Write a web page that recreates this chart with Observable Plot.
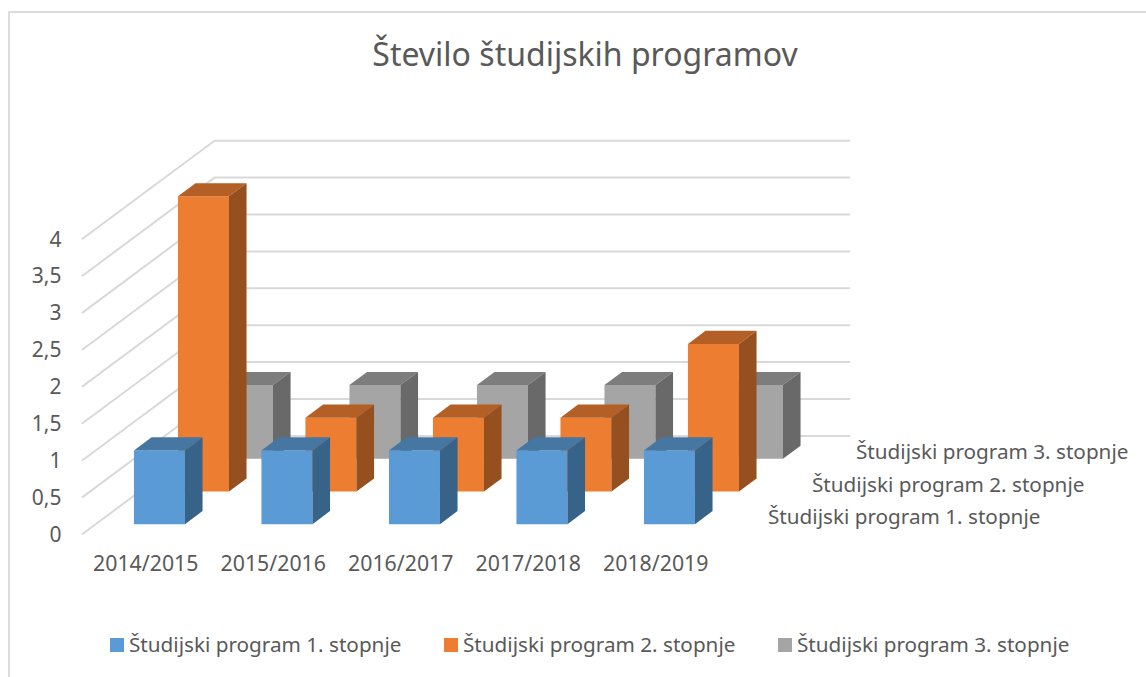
<!DOCTYPE html>
<html><head><meta charset="utf-8">
<script src="https://cdn.jsdelivr.net/npm/d3@7"></script>
<script src="https://cdn.jsdelivr.net/npm/@observablehq/plot@0.6"></script>
<style>
html,body{margin:0;padding:0;background:#fff;overflow:hidden}
#wrap{position:relative;width:1146px;height:677px;font-family:"Noto Sans",sans-serif;color:#595959;box-sizing:border-box}
#frame{position:absolute;left:8px;top:11px;right:-4px;bottom:-4px;border:2px solid #dcdcdc;box-sizing:border-box;pointer-events:none}
#title{height:80px;box-sizing:border-box;padding-top:31px;text-align:center;font-size:32px;line-height:46px;padding-left:24px;white-space:nowrap}
#legend{position:absolute;top:631px;left:110px;display:flex;font-size:20.7px;line-height:27px}
#legend .it{width:334px;display:flex;align-items:center;white-space:nowrap}
#legend .sw{width:14px;height:14px;margin-right:5px;flex:none}
svg{display:block}
</style></head><body>
<div id="wrap"><div id="frame"></div><div id="title">Število študijskih programov</div><div id="chart"></div><div id="legend"></div></div>
<script>
const categories = ["2014/2015","2015/2016","2016/2017","2017/2018","2018/2019"];
const seriesNames = ["Študijski program 1. stopnje","Študijski program 2. stopnje","Študijski program 3. stopnje"];
const program1 = [1,1,1,1,1];
const program2 = [4,1,1,1,2];
const program3 = [1,1,1,1,1];
const gridValues = [0,0.5,1,1.5,2,2.5,3,3.5,4];
const tickLabels = ["0","0,5","1","1,5","2","2,5","3","3,5","4"];
const faceColors = [["#5b9bd5","#4676a2","#376389"],["#ed7d31","#b45f25","#96501f"],["#a5a5a5","#7d7d7d","#696969"]];

const allValues = [program1,program2,program3];
const kx = 44/127.5, ky = 32.7/73.8;
const P = (c,d,v) => ({px:c+d*kx, py:v+d*ky});
const depthCount = seriesNames.length;
const gridEnd = 4.98;

const grid = [];
gridValues.forEach(v=>{
  grid.push({...P(0,0,v),id:v},{...P(0,depthCount,v),id:v},{...P(gridEnd,depthCount,v),id:v});
});

const polys = [];
for (let s=depthCount-1;s>=0;s--) {
  allValues[s].forEach((v,c)=>{
    const c0=c+0.3,c1=c+0.7,d0=s+0.3,d1=s+0.7;
    const add=(face,pts)=>pts.forEach(p=>polys.push({...P(...p),id:`${s}-${c}-${face}`,tone:`${s}-${face}`}));
    add(0,[[c0,d0,0],[c1,d0,0],[c1,d0,v],[c0,d0,v]]);
    add(1,[[c0,d0,v],[c1,d0,v],[c1,d1,v],[c0,d1,v]]);
    add(2,[[c1,d0,0],[c1,d1,0],[c1,d1,v],[c1,d0,v]]);
  });
}
const toneDomain=[],toneRange=[];
faceColors.forEach((f,s)=>f.forEach((col,i)=>{toneDomain.push(`${s}-${i}`);toneRange.push(col);}));

const catLabels = categories.map((name,c)=>({...P(c+0.5,0,0),name}));
const depthLabels = seriesNames.map((name,s)=>({...P(5,s+0.5,0),name}));
const font = "'Noto Sans', sans-serif";

const chart = Plot.plot({
  width:1146,height:520,margin:0,
  style:{fontFamily:font,color:"#595959",background:"transparent",overflow:"visible"},
  x:{domain:[0,8],range:[82,82+8*127.5],axis:null},
  y:{domain:[0,6],range:[453.5,453.5-6*73.8],axis:null},
  color:{type:"ordinal",domain:toneDomain,range:toneRange},
  marks:[
    Plot.line(grid,{x:"px",y:"py",z:"id",stroke:"#d9d9d9",strokeWidth:2}),
    Plot.line(polys,{x:"px",y:"py",z:"id",fill:"tone",stroke:"none"}),
    Plot.text(gridValues,{x:0,y:v=>v,text:(v,i)=>tickLabels[i],textAnchor:"end",dx:-21,dy:1,fontSize:21,fill:"#595959"}),
    Plot.text(catLabels,{x:"px",y:"py",text:"name",dy:30,dx:-0.5,fontSize:21.3,fill:"#595959"}),
    Plot.text(depthLabels,{x:"px",y:"py",text:"name",textAnchor:"start",dx:26,fontSize:20.7,fill:"#595959"})
  ]
});
document.getElementById("chart").appendChild(chart);
const lg=document.getElementById("legend");
seriesNames.forEach((n,s)=>{
  const it=document.createElement("div");it.className="it";
  const sw=document.createElement("span");sw.className="sw";sw.style.background=faceColors[s][0];
  const t=document.createElement("span");t.textContent=n;
  it.append(sw,t);lg.append(it);
});
</script></body></html>
